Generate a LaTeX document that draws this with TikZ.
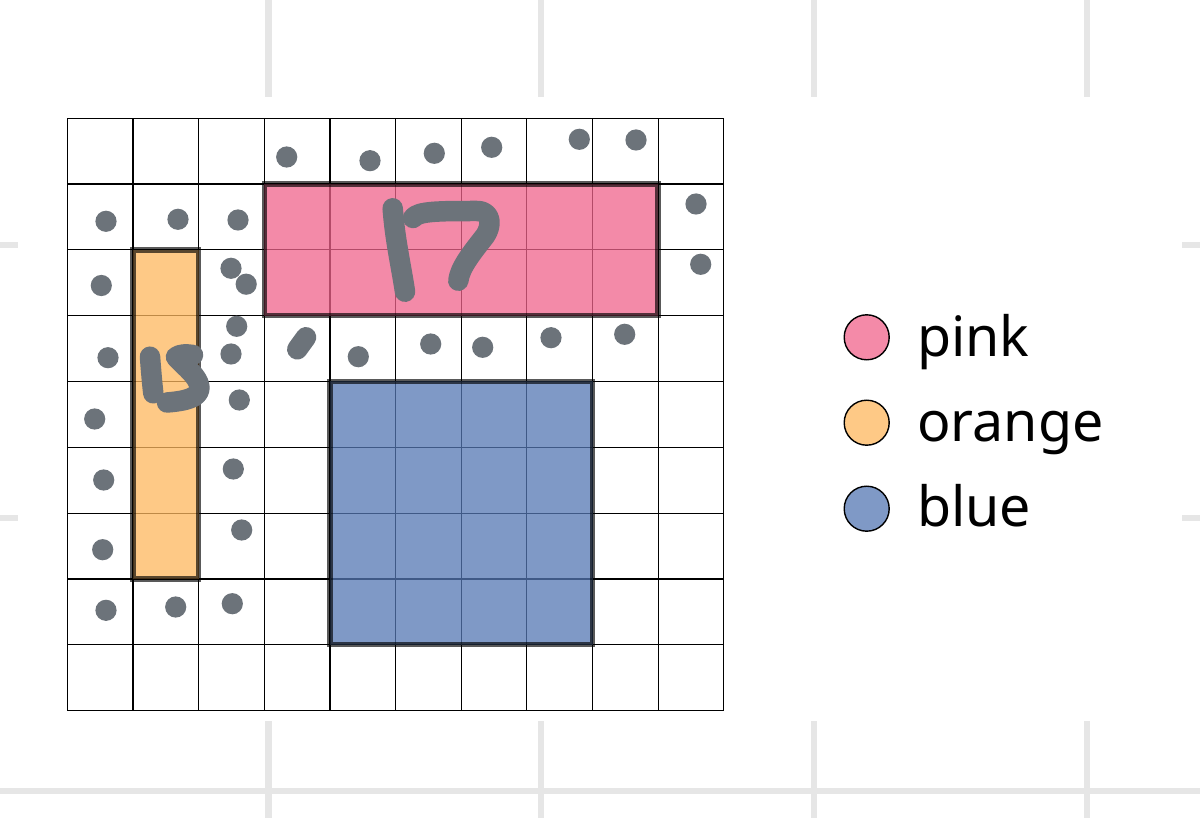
\documentclass[tikz,border=0pt]{standalone}
\usepackage{fontspec}
\setmainfont{Noto Sans}
\definecolor{bggrid}{HTML}{E6E6E6}
\definecolor{dotgray}{HTML}{6C737A}
\definecolor{pinkc}{HTML}{F48AA8}
\definecolor{orangec}{HTML}{FEC986}
\definecolor{bluec}{HTML}{7F99C6}
\definecolor{pinkb}{HTML}{F0638C}
\definecolor{orangeb}{HTML}{FEB75E}
\definecolor{blueb}{HTML}{5577B3}
\tikzset{
  bgline/.style={draw=bggrid, line width=6.5pt},
  cellline/.style={draw=black, line width=1.2pt},
  region/.style={fill opacity=0.75, draw=black, draw opacity=0.65, line width=5.5pt},
  dot/.style={fill=dotgray},
  handstroke/.style={draw=dotgray, line width=20.5pt, line cap=round, line join=round},
  legdot/.style={circle, draw=black, line width=1.4pt, minimum size=45pt, inner sep=0pt},
  legtext/.style={anchor=base west, inner sep=0pt, font=\fontsize{55.5}{60}\selectfont}
}
\begin{document}
\begin{tikzpicture}[x=1pt,y=-1pt]
\useasboundingbox (0,0) rectangle (1200,818);
\fill[white] (0,0) rectangle (1200,818);
% background guide grid
\foreach \gx in {268.5,541,814,1087}{\draw[bgline] (\gx,0) -- (\gx,818);}
\foreach \gy in {245,518,791}{\draw[bgline] (0,\gy) -- (1200,\gy);}
\fill[white] (18,97) rectangle (1182,721);
% cell grid
\begin{scope}[shift={(67.3,118.3)}, x=65.65pt, y=-65.8pt]
  \foreach \i in {0,...,10}{\draw[cellline] (\i,0) -- (\i,9);}
  \foreach \j in {0,...,9}{\draw[cellline] (0,\j) -- (10,\j);}
  \path[region, fill=pinkb] (3,1) rectangle (9,3);
  \path[region, fill=orangeb] (1,2) rectangle (2,7);
  \path[region, fill=blueb] (4,4) rectangle (8,8);
\end{scope}
% dots
\foreach \p in {(286.7,157),(370,160.7),(434.3,153.3),(491.7,147.3),(579.3,139.3),(636,140),
  (106,221.3),(178,219.3),(238,220),(696,204),
  (101.3,285.5),(231,268.3),(246.2,284.2),(700.7,264.3),
  (108,357.7),(236.7,326.3),(231,354),(358.3,356.7),(430.7,344),(482.7,347.3),(551,337.7),(624.7,334.3),
  (94.7,419),(239.3,400),
  (103.7,480),(233.3,469),
  (102.7,549.7),(241.7,530),
  (106,610.3),(175.7,607),(232.3,603.7)}
  {\fill[dot] \p circle[radius=10.6pt];}
\draw[handstroke] (297.3,349.3) -- (306,337.3);
% handwritten 17
\draw[handstroke] (392.7,208.3) .. controls (395,240) and (401,265) .. (405,291.7);
\draw[handstroke] (413,218) .. controls (418,211) and (440,211) .. (477,211) .. controls (492,211) and (492,226) .. (485,236) .. controls (470,255) and (460,268) .. (458.3,280.7);
% handwritten 15
\draw[handstroke] (150,356.7) .. controls (151,370) and (152,382) .. (153.3,393.3);
\draw[handstroke] (193,355) .. controls (186,354) and (180,354) .. (176,357) .. controls (186,368) and (198,376) .. (199.5,387) .. controls (200,398) and (185,401) .. (167,402.5);
% legend
\node[legdot, fill=pinkc] (lpink) at (866.7,337.3) {};
\node[legdot, fill=orangec] (lorange) at (866.7,422.7) {};
\node[legdot, fill=bluec] (lblue) at (866.7,508.7) {};
\node[legtext] (tpink) at (917,356) {pink};
\node[legtext] (torange) at (917,441.7) {orange};
\node[legtext] (tblue) at (917,526.7) {blue};
\end{tikzpicture}
\end{document}
